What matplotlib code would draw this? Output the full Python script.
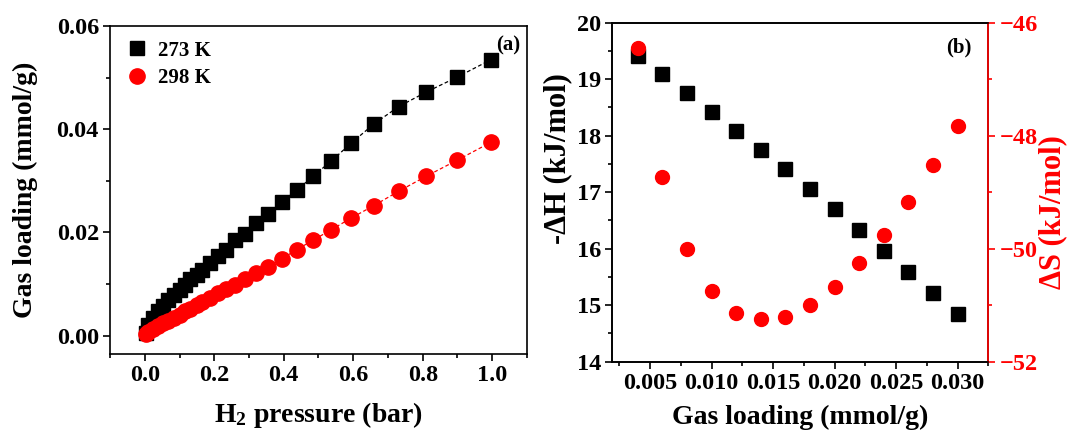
import matplotlib
matplotlib.use("Agg")
from matplotlib import pyplot as plt
from matplotlib.ticker import MultipleLocator, FormatStrFormatter

plt.rcParams['font.family'] = ['Liberation Serif', 'DejaVu Serif']
plt.rcParams['font.weight'] = 'bold'
plt.rcParams['axes.labelweight'] = 'bold'
plt.rcParams['mathtext.fontset'] = 'custom'
plt.rcParams['mathtext.rm'] = 'Liberation Serif:bold'
plt.rcParams['mathtext.default'] = 'rm'
plt.rcParams['axes.linewidth'] = 1.2

# (a) H2 isotherms
pressure = [0.003, 0.010, 0.024, 0.038, 0.053, 0.067, 0.084, 0.101, 0.115,
            0.130, 0.149, 0.166, 0.187, 0.211, 0.234, 0.260, 0.288, 0.320,
            0.356, 0.394, 0.438, 0.484, 0.536, 0.594, 0.659, 0.731, 0.810,
            0.899, 0.997]
uptake_273 = [0.0005, 0.0021, 0.0034, 0.0047, 0.0057, 0.0070, 0.0079, 0.0089,
              0.0099, 0.0109, 0.0118, 0.0128, 0.0141, 0.0154, 0.0167, 0.0185,
              0.0197, 0.0218, 0.0236, 0.0260, 0.0282, 0.0309, 0.0338, 0.0373,
              0.0410, 0.0444, 0.0472, 0.0501, 0.0535]
uptake_298 = [0.0003, 0.0008, 0.0013, 0.0018, 0.0024, 0.0029, 0.0035, 0.0041,
              0.0047, 0.0052, 0.0059, 0.0066, 0.0074, 0.0082, 0.0090, 0.0099,
              0.0110, 0.0121, 0.0134, 0.0149, 0.0167, 0.0185, 0.0205, 0.0228,
              0.0252, 0.0280, 0.0309, 0.0340, 0.0375]

# (b) isosteric heat and entropy
loading = [0.004, 0.006, 0.008, 0.010, 0.012, 0.014, 0.016, 0.018, 0.020,
           0.022, 0.024, 0.026, 0.028, 0.030]
neg_dH = [19.41, 19.10, 18.76, 18.42, 18.09, 17.75, 17.41, 17.05, 16.70,
          16.33, 15.96, 15.59, 15.22, 14.84]
dS = [-46.44, -48.73, -50.01, -50.74, -51.13, -51.25, -51.20, -51.00, -50.68,
      -50.26, -49.75, -49.17, -48.52, -47.82]

RED = '#ff0000'
TICK_SIZE = 17.5
LABEL_SIZE = 20

fig = plt.figure(figsize=(10.67, 4.37), dpi=100)
ax1 = fig.add_axes([0.1031, 0.1892, 0.3908, 0.7513])
ax2 = fig.add_axes([0.5736, 0.1723, 0.3527, 0.7757])


def style_ticks(ax):
    ax.tick_params(which='both', direction='out', width=1.2,
                   labelsize=TICK_SIZE, top=False, right=False, pad=3)
    ax.tick_params(which='major', length=5)
    ax.tick_params(which='minor', length=3)


ax1.plot(pressure, uptake_273, ls=(0, (3, 2)), lw=0.9, color='black',
         marker='s', ms=10, label='273 K')
ax1.plot(pressure, uptake_298, ls=(0, (3, 2)), lw=0.9, color=RED,
         marker='o', ms=11, label='298 K')
ax1.set_xlim(-0.1, 1.1)
ax1.set_ylim(-0.0036, 0.06)
ax1.xaxis.set_major_locator(MultipleLocator(0.2))
ax1.xaxis.set_minor_locator(MultipleLocator(0.1))
ax1.yaxis.set_major_locator(MultipleLocator(0.02))
ax1.yaxis.set_minor_locator(MultipleLocator(0.01))
ax1.xaxis.set_major_formatter(FormatStrFormatter('%.1f'))
ax1.yaxis.set_major_formatter(FormatStrFormatter('%.2f'))
style_ticks(ax1)
ax1.set_xlabel(r'H$_2$ pressure (bar)', fontsize=LABEL_SIZE, labelpad=10)
ax1.set_ylabel('Gas loading (mmol/g)', fontsize=LABEL_SIZE, labelpad=13)
ax1.legend(loc='upper left', frameon=False, handletextpad=0.4,
           borderaxespad=0.3, labelspacing=0.35, handlelength=1.2,
           prop={'size': 15, 'weight': 'bold'})
for line in ax1.get_legend().get_lines():
    line.set_linestyle('none')
ax1.text(0.985, 0.97, '(a)', transform=ax1.transAxes, ha='right', va='top',
         fontsize=15, fontweight='bold')

ax2.plot(loading, neg_dH, ls='none', marker='s', ms=9.5, color='black')
ax2.set_xlim(0.0019, 0.0325)
ax2.set_ylim(14, 20)
ax2.xaxis.set_major_locator(MultipleLocator(0.005))
ax2.xaxis.set_minor_locator(MultipleLocator(0.0025))
ax2.yaxis.set_major_locator(MultipleLocator(1))
ax2.yaxis.set_minor_locator(MultipleLocator(0.5))
ax2.xaxis.set_major_formatter(FormatStrFormatter('%.3f'))
style_ticks(ax2)
ax2.set_xlabel('Gas loading (mmol/g)', fontsize=LABEL_SIZE, labelpad=8)
ax2.set_ylabel('-ΔH (kJ/mol)', fontsize=22)
ax2.yaxis.set_label_coords(-0.106, 0.60)
ax2.text(0.955, 0.955, '(b)', transform=ax2.transAxes, ha='right', va='top',
         fontsize=15, fontweight='bold')

ax3 = ax2.twinx()
ax3.plot(loading, dS, ls='none', marker='o', ms=10, color=RED)
ax3.set_ylim(-52, -46)
ax3.yaxis.set_major_locator(MultipleLocator(2))
ax3.yaxis.set_minor_locator(MultipleLocator(1))
ax3.spines['right'].set_color(RED)
ax3.tick_params(which='both', axis='y', direction='out', width=1.2,
                colors=RED, labelsize=TICK_SIZE, pad=3)
ax3.tick_params(which='major', axis='y', length=5)
ax3.tick_params(which='minor', axis='y', length=3)
ax3.set_ylabel('ΔS (kJ/mol)', fontsize=22, color=RED)
ax3.yaxis.set_label_coords(1.132, 0.44)

fig.savefig('out.png', dpi=100)
